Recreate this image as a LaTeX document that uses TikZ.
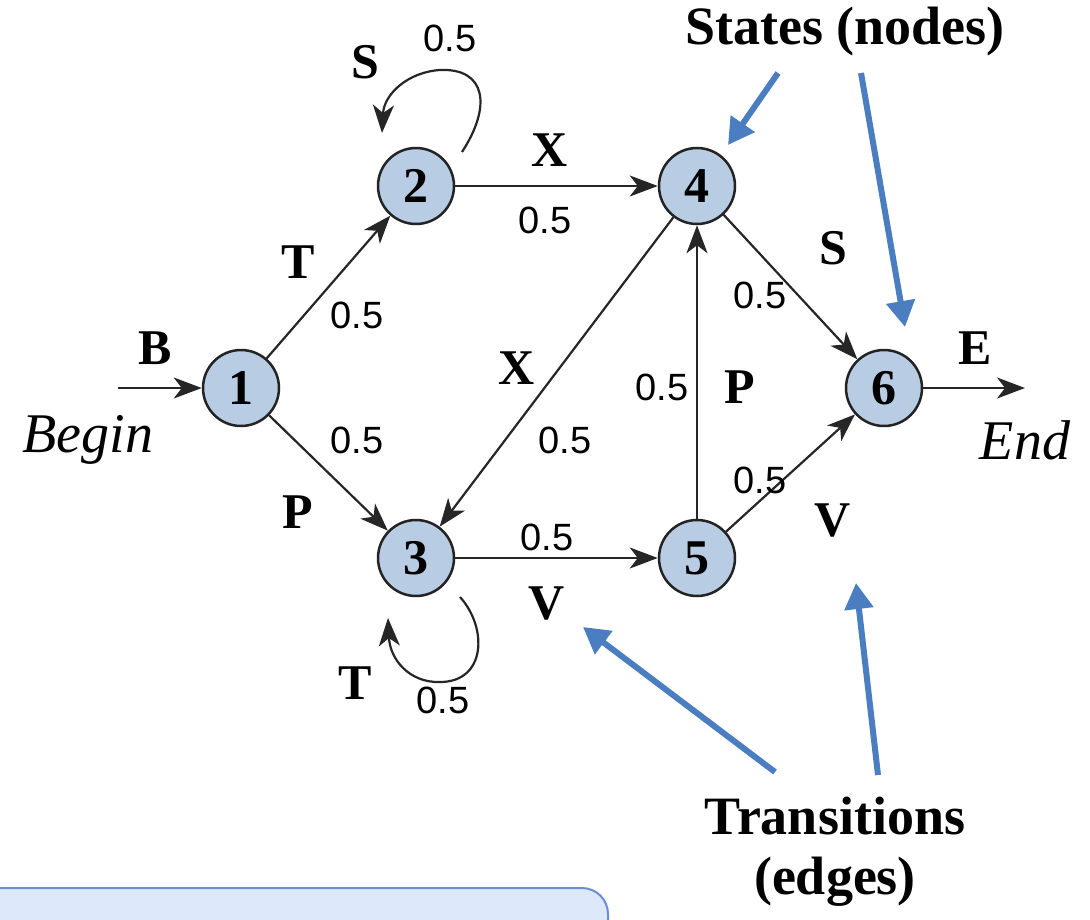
\documentclass[tikz,border=0pt]{standalone}
\usepackage{fontspec}
\setmainfont{Liberation Serif}
\newfontfamily\arialf{Liberation Sans}
\usetikzlibrary{arrows.meta}
\definecolor{nodefill}{RGB}{184,204,228}
\definecolor{nodeline}{RGB}{35,35,35}
\definecolor{callout}{RGB}{74,126,193}
\definecolor{boxfill}{RGB}{222,232,251}
\definecolor{boxline}{RGB}{106,143,208}
\tikzset{
  state/.style={circle,draw=nodeline,fill=nodefill,line width=2.5pt,minimum size=76pt,inner sep=0pt,
    font=\fontsize{50}{52}\selectfont\bfseries},
  trans/.style={draw=black!85,line width=2.2pt,-{Stealth[length=28pt,width=21pt,inset=8pt]}},
  sym/.style={font=\fontsize{50}{52}\selectfont\bfseries,inner sep=0pt},
  prob/.style={font=\arialf\fontsize{38}{40}\selectfont,inner sep=0pt},
  ends/.style={font=\fontsize{56}{58}\selectfont\itshape,inner sep=0pt},
  title/.style={font=\fontsize{54}{60}\selectfont\bfseries,inner sep=0pt,align=center},
  pointer/.style={draw=callout,line width=6pt,-{Triangle[length=26pt,width=28pt]}},
}
\begin{document}
\begin{tikzpicture}[x=1pt,y=-1pt]
\useasboundingbox (0,0) rectangle (1090,919);
% bottom box
\path[draw=boxline,fill=boxfill,line width=2pt,rounded corners=26pt] (-20,888) -- (608,888) -- (608,960) -- (-20,960);
% states
\node[state] (n1) at (241,388) {1};
\node[state] (n2) at (416,186) {2};
\node[state] (n3) at (416,558) {3};
\node[state] (n4) at (697,186) {4};
\node[state] (n5) at (697,558) {5};
\node[state] (n6) at (884,388) {6};
\coordinate (bg) at (118,388);
\coordinate (en) at (1025,388);
% transitions
\draw[trans] (bg) -- (n1);
\draw[trans] (n6) -- (en);
\draw[trans] (n1) -- (n2);
\draw[trans] (n1) -- (n3);
\draw[trans] (n2) -- (n4);
\draw[trans] (n4) -- (n3);
\draw[trans] (n3) -- (n5);
\draw[trans] (n5) -- (n4);
\draw[trans] (n4) -- (n6);
\draw[trans] (n5) -- (n6);
% self loops
\draw[trans] ([shift={(46,-34)}]n2.center) .. controls ([shift={(76,-80)}]n2.center) and ([shift={(70,-118)}]n2.center) .. ([shift={(24,-116)}]n2.center)
  .. controls ([shift={(-8,-114)}]n2.center) and ([shift={(-32,-92)}]n2.center) .. ([shift={(-34,-53)}]n2.center);
\draw[trans] ([shift={(44,39)}]n3.center) .. controls ([shift={(72,70)}]n3.center) and ([shift={(70,124)}]n3.center) .. ([shift={(24,124)}]n3.center)
  .. controls ([shift={(-6,125)}]n3.center) and ([shift={(-26,102)}]n3.center) .. ([shift={(-28,60)}]n3.center);
% labels
\node[sym] (lB) at (155,348) {B};
\node[ends] (lBegin) at (88,440) {Begin};
\node[sym] (lE) at (975,348) {E};
\node[ends] (lEnd) at (1025,440) {End};
\node[sym] (l12) at (298,262) {T};
\node[prob] (p12) at (357,315) {0.5};
\node[sym] (l13) at (298,512) {P};
\node[prob] (p13) at (357,440) {0.5};
\node[sym] (l22) at (365,62) {S};
\node[prob] (p22) at (450,38) {0.5};
\node[sym] (l24) at (550,150) {X};
\node[prob] (p24) at (545,220) {0.5};
\node[sym] (l43) at (517,368) {X};
\node[prob] (p43) at (565,440) {0.5};
\node[sym] (l46) at (833,248) {S};
\node[prob] (p46) at (760,295) {0.5};
\node[prob] (p54) at (662,387) {0.5};
\node[sym] (l54) at (740,387) {P};
\node[prob] (p35) at (547,537) {0.5};
\node[sym] (l35) at (547,603) {V};
\node[prob] (p56) at (760,480) {0.5};
\node[sym] (l56) at (833,520) {V};
\node[sym] (l33) at (355,683) {T};
\node[prob] (p33) at (443,700) {0.5};
% callouts
\node[title] (tstates) at (845,32) {States (nodes)};
\node[title] (ttrans) at (835,852) {Transitions\\(edges)};
\coordinate (a1s) at (778,73);
\coordinate (a1e) at (728,145);
\coordinate (a2s) at (861,73);
\coordinate (a2e) at (905,327);
\coordinate (a3s) at (775,772);
\coordinate (a3e) at (583,627);
\coordinate (a4s) at (878,775);
\coordinate (a4e) at (856,583);
\draw[pointer] (a1s) -- (a1e);
\draw[pointer] (a2s) -- (a2e);
\draw[pointer] (a3s) -- (a3e);
\draw[pointer] (a4s) -- (a4e);
\end{tikzpicture}
\end{document}
